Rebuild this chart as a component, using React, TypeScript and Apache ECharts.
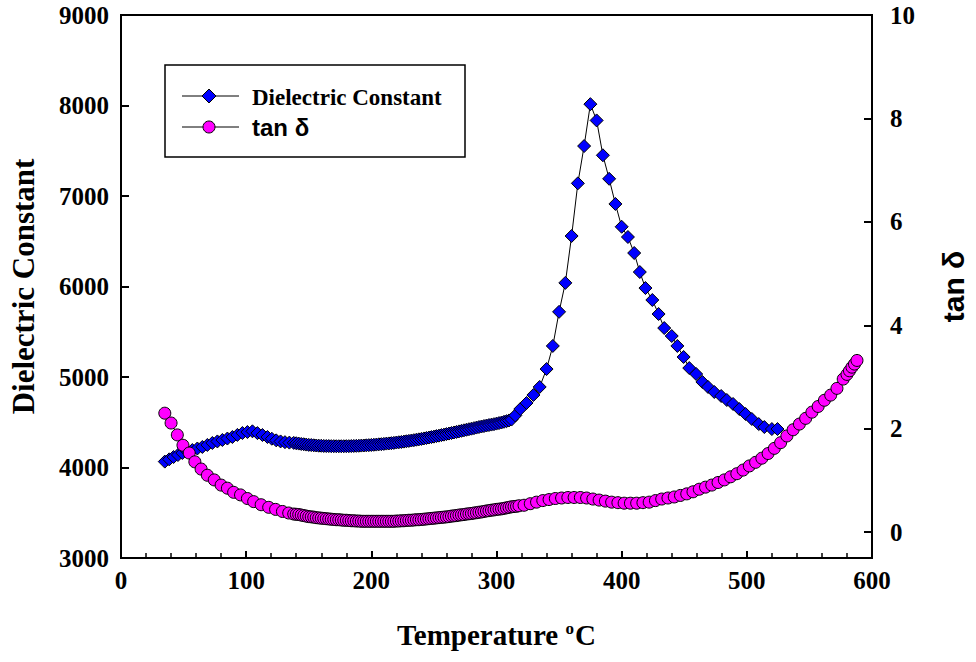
import React, { useEffect, useRef } from "react";
import * as echarts from "echarts";

// [temperature °C, dielectric constant] readings
const dcReadings: number[][] = [
  [35, 4065], [38.5, 4090], [42, 4116], [45.5, 4138], [49, 4160], [53, 4177], [57, 4193], [61, 4210], [65, 4227],
  [69, 4249], [73, 4271], [77, 4288], [81, 4304], [85, 4320], [89, 4337], [93, 4360], [97, 4381], [101, 4392],
  [105, 4400], [109, 4380], [113, 4359], [117, 4337], [120.5, 4318], [124, 4300], [127.5, 4288], [131, 4280], [134.5, 4275],
  [138, 4272], [140, 4268], [142, 4264], [144, 4260], [146, 4257], [148, 4253], [150, 4250], [152, 4248], [154, 4245],
  [156, 4243], [158, 4241], [160, 4240], [162, 4238], [164, 4237], [166, 4237], [168, 4236], [170, 4236], [172, 4235],
  [174, 4235], [176, 4235], [178, 4235], [180, 4236], [182, 4236], [184, 4237], [186, 4238], [188, 4239], [190, 4240],
  [192, 4242], [194, 4243], [196, 4245], [198, 4247], [200, 4249], [202, 4251], [204, 4253], [206, 4256], [208, 4258],
  [210, 4261], [212, 4264], [214, 4266], [216, 4269], [218, 4272], [220, 4276], [222, 4279], [224, 4282], [226, 4286],
  [228, 4290], [230, 4294], [232, 4298], [234, 4302], [236, 4307], [238, 4311], [240, 4316], [242, 4321], [244, 4326],
  [246, 4331], [248, 4336], [250, 4341], [252, 4347], [254, 4352], [256, 4358], [258, 4363], [260, 4369], [262, 4375],
  [264, 4381], [266, 4387], [268, 4393], [270, 4399], [272, 4405], [274, 4411], [276, 4417], [278, 4423], [280, 4429],
  [282, 4435], [284, 4441], [286, 4447], [288, 4453], [290, 4458], [292, 4464], [294, 4469], [296, 4474], [298, 4479],
  [300, 4485], [302, 4491], [304, 4497], [306, 4505], [308, 4512], [310, 4520], [312, 4530],
  [315, 4575], [319, 4646], [324, 4713], [329.5, 4801], [334.5, 4890], [340, 5088], [345, 5343], [350, 5720], [355, 6040],
  [360, 6558], [365, 7140], [370, 7552], [375, 8015], [380, 7835], [385, 7450], [390, 7190], [395, 6912], [400, 6660],
  [405, 6547], [410, 6370], [414.5, 6160], [419, 5983], [424.5, 5851], [429.5, 5696], [434, 5541], [440, 5453],
  [444.5, 5343], [449.5, 5221], [454, 5099], [459.5, 5033], [464.5, 4945], [469, 4890], [474, 4834], [479.5, 4790],
  [484, 4746], [489, 4702], [494, 4646], [499, 4591], [504, 4536], [509.5, 4480], [514, 4447], [520, 4425], [524.5, 4425],
];

// [temperature °C, tan δ] readings
const tanReadings: number[][] = [
  [35, 2.3], [40, 2.11], [45, 1.88], [49.5, 1.68], [54.5, 1.53], [59, 1.36], [64, 1.22], [69, 1.1], [74.5, 1.01], [80, 0.91],
  [85, 0.85], [90, 0.77], [95.5, 0.72], [101, 0.65], [106, 0.59], [112, 0.53], [118, 0.48], [123.5, 0.44], [129, 0.4],
  [134, 0.37],
  [138, 0.35], [140, 0.345], [142, 0.34], [144, 0.33], [146, 0.32], [148, 0.31], [150, 0.3], [152, 0.295], [154, 0.29],
  [156, 0.28], [158, 0.275], [160, 0.27], [162, 0.265], [164, 0.26], [166, 0.255], [168, 0.25], [170, 0.245], [172, 0.24],
  [174, 0.24], [176, 0.235], [178, 0.23], [180, 0.23], [182, 0.225], [184, 0.22], [186, 0.22], [188, 0.215], [190, 0.215],
  [192, 0.21], [194, 0.21], [196, 0.21], [198, 0.21], [200, 0.21], [202, 0.21], [204, 0.21], [206, 0.21], [208, 0.21],
  [210, 0.21], [212, 0.21], [214, 0.21], [216, 0.21], [218, 0.21], [220, 0.215], [222, 0.215], [224, 0.22], [226, 0.22],
  [228, 0.225], [230, 0.23], [232, 0.23], [234, 0.235], [236, 0.24], [238, 0.24], [240, 0.245], [242, 0.25], [244, 0.255],
  [246, 0.26], [248, 0.265], [250, 0.27], [252, 0.275], [254, 0.28], [256, 0.285], [258, 0.29], [260, 0.295], [262, 0.3],
  [264, 0.31], [266, 0.315], [268, 0.32], [270, 0.33], [272, 0.335], [274, 0.34], [276, 0.35], [278, 0.355], [280, 0.36],
  [282, 0.37], [284, 0.375], [286, 0.385], [288, 0.39], [290, 0.4], [292, 0.41], [294, 0.415], [296, 0.425], [298, 0.43],
  [300, 0.44], [302, 0.445], [304, 0.45], [306, 0.46], [308, 0.47], [310, 0.48], [312, 0.49], [314, 0.495], [316, 0.5],
  [318, 0.51],
  [322, 0.52], [327, 0.55], [332, 0.58], [337, 0.61], [342, 0.63], [347, 0.65], [352, 0.66], [357, 0.67], [362, 0.67],
  [367, 0.67], [372, 0.66], [377, 0.64], [382, 0.62], [387, 0.6], [392, 0.58], [397, 0.57], [402, 0.56], [407, 0.56],
  [412, 0.56], [417, 0.57], [422, 0.58], [427, 0.61], [432, 0.64], [437, 0.66], [442, 0.68], [447, 0.71], [452, 0.74],
  [457, 0.78], [462, 0.83], [467, 0.87], [472, 0.91], [477, 0.96], [482, 1.01], [487, 1.07], [492, 1.13], [497, 1.2],
  [502, 1.28], [507, 1.35], [512, 1.43], [517, 1.52], [522, 1.62], [527, 1.73], [532, 1.86], [537, 1.98], [542, 2.09],
  [547, 2.2], [552, 2.32], [557, 2.43], [562, 2.55], [567, 2.65], [572, 2.78], [577, 2.96], [580, 3.05], [582, 3.12],
  [584, 3.19], [586, 3.25], [588, 3.32],
];

const tanTicks = [0, 2, 4, 6, 8, 10];

const SERIF = "'Liberation Serif', 'Times New Roman', serif";
const SANS = "'Liberation Sans', Arial, sans-serif";

export default function App() {
  const ref = useRef<HTMLDivElement>(null);

  useEffect(() => {
    const chart = echarts.init(ref.current!, null, { renderer: "svg" });
    const labelStyle = {
      color: "#000",
      fontFamily: SERIF,
      fontWeight: "bold" as const,
      fontSize: 25,
      formatter: (v: number) => String(v),
    };

    chart.setOption({
      animation: false,
      backgroundColor: "#fff",
      grid: {
        left: 121,
        right: 98,
        top: 15,
        bottom: 104,
        show: true,
        borderColor: "#000",
        borderWidth: 2,
        backgroundColor: "transparent",
      },
      xAxis: {
        type: "value",
        min: 0,
        max: 600,
        interval: 100,
        name: "Temperature {sup|o}C",
        nameLocation: "middle",
        nameGap: 62,
        nameTextStyle: {
          color: "#000",
          fontFamily: SERIF,
          fontWeight: "bold",
          fontSize: 29,
          rich: {
            sup: {
              color: "#000",
              fontFamily: SERIF,
              fontWeight: "bold",
              fontSize: 17,
              padding: [0, 1, 12, 0],
            },
          },
        },
        axisLine: { show: true, onZero: false, lineStyle: { color: "#000", width: 2 } },
        axisTick: { show: true, inside: true, length: 7, lineStyle: { color: "#000", width: 2 } },
        minorTick: { show: true, splitNumber: 5, length: 5, lineStyle: { color: "#000", width: 1.5 } },
        axisLabel: { ...labelStyle, margin: 10 },
        splitLine: { show: false },
      },
      yAxis: [
        {
          type: "value",
          min: 3000,
          max: 9000,
          interval: 1000,
          name: "Dielectric Constant",
          nameLocation: "middle",
          nameGap: 82,
          nameRotate: 90,
          nameTextStyle: { color: "#000", fontFamily: SERIF, fontWeight: "bold", fontSize: 31 },
          axisLine: { show: true, onZero: false, lineStyle: { color: "#000", width: 2 } },
          axisTick: { show: true, inside: true, length: 8, lineStyle: { color: "#000", width: 2 } },
          axisLabel: { ...labelStyle, margin: 12 },
          splitLine: { show: false },
        },
        {
          type: "value",
          position: "right",
          min: -0.5,
          max: 10,
          name: "tan δ",
          nameLocation: "middle",
          nameGap: 66,
          nameRotate: 90,
          nameTextStyle: { color: "#000", fontFamily: SANS, fontWeight: "bold", fontSize: 30 },
          axisLine: { show: true, onZero: false, lineStyle: { color: "#000", width: 2 } },
          axisTick: {
            show: true,
            inside: true,
            length: 8,
            customValues: tanTicks,
            lineStyle: { color: "#000", width: 2 },
          },
          axisLabel: { ...labelStyle, margin: 18, customValues: tanTicks },
          splitLine: { show: false },
        },
      ],
      graphic: [
        {
          type: "rect",
          shape: { x: 165, y: 65, width: 300, height: 92 },
          style: { fill: "#fff", stroke: "#000", lineWidth: 1.5 },
          z: 10,
        },
        {
          type: "line",
          shape: { x1: 182, y1: 96, x2: 239, y2: 96 },
          style: { stroke: "#000", lineWidth: 1 },
          z: 11,
        },
        {
          type: "polygon",
          shape: { points: [[209, 89], [216, 96], [209, 103], [202, 96]] },
          style: { fill: "#0000ff", stroke: "#000", lineWidth: 1 },
          z: 12,
        },
        {
          type: "line",
          shape: { x1: 182, y1: 127, x2: 239, y2: 127 },
          style: { stroke: "#000", lineWidth: 1 },
          z: 11,
        },
        {
          type: "circle",
          shape: { cx: 209, cy: 127, r: 6 },
          style: { fill: "#ff00ff", stroke: "#000", lineWidth: 1 },
          z: 12,
        },
        {
          type: "text",
          x: 252,
          y: 97,
          style: {
            text: "Dielectric Constant",
            fill: "#000",
            font: `bold 23px ${SERIF}`,
            verticalAlign: "middle",
            align: "left",
          },
          z: 12,
        },
        {
          type: "text",
          x: 252,
          y: 127,
          style: {
            text: "tan δ",
            fill: "#000",
            font: `bold 24px ${SANS}`,
            verticalAlign: "middle",
            align: "left",
          },
          z: 12,
        },
      ],
      series: [
        {
          name: "Dielectric Constant",
          type: "line",
          yAxisIndex: 0,
          data: dcReadings,
          symbol: "diamond",
          symbolSize: 13,
          showAllSymbol: true,
          lineStyle: { color: "#000", width: 1 },
          itemStyle: { color: "#0000ff", borderColor: "#000", borderWidth: 1 },
          z: 2,
        },
        {
          name: "tan δ",
          type: "line",
          yAxisIndex: 1,
          data: tanReadings,
          symbol: "circle",
          symbolSize: 12,
          showAllSymbol: true,
          lineStyle: { color: "#000", width: 1 },
          itemStyle: { color: "#ff00ff", borderColor: "#000", borderWidth: 1 },
          z: 3,
        },
      ],
    });
    return () => chart.dispose();
  }, []);

  return (
    <div
      ref={ref}
      style={{ position: "absolute", left: 0, top: 0, width: 976, height: 662, background: "#fff" }}
    />
  );
}
